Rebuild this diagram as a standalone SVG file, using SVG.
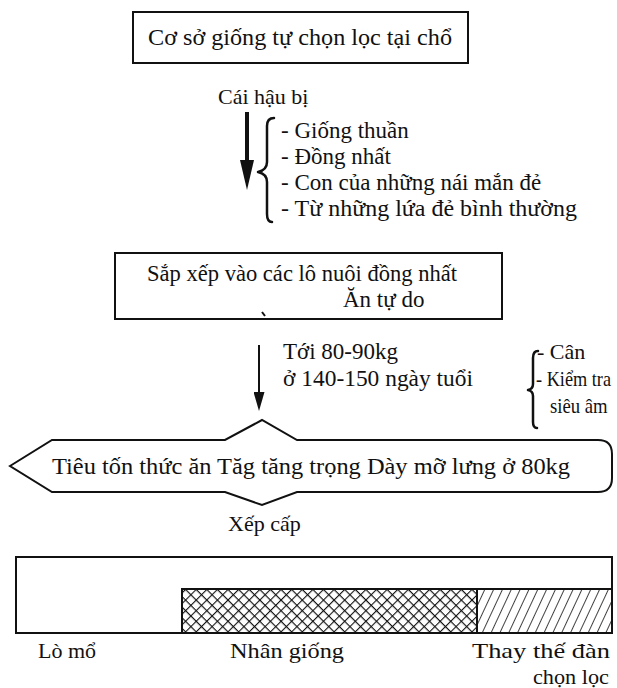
<svg xmlns="http://www.w3.org/2000/svg" width="617" height="688" viewBox="0 0 617 688">
  <style>
    .t { font-family: "Liberation Serif", "Times New Roman", serif; font-size: 23px; fill: #111; }
    .s { font-size: 22px; }
    .box { fill: #fff; stroke: #111; stroke-width: 2; }
    .line { fill: none; stroke: #111; stroke-width: 2; }
    .brace { fill: none; stroke: #111; stroke-width: 2.5; stroke-linecap: round; stroke-linejoin: round; }
  </style>
  <defs>
    <!-- heavy arrowhead: tip sits 25 units past the shaft end -->
    <marker id="headBold" viewBox="0 0 30 14" refX="5" refY="7" markerWidth="30" markerHeight="14" markerUnits="userSpaceOnUse" orient="auto">
      <path d="M0,0 L30,7 L0,14 Z" fill="#111"/>
    </marker>
    <!-- light arrowhead: tip sits 16 units past the shaft end -->
    <marker id="headThin" viewBox="0 0 19 11" refX="3" refY="5.5" markerWidth="19" markerHeight="11" markerUnits="userSpaceOnUse" orient="auto">
      <path d="M0,0 L19,5.5 L0,11 Z" fill="#111"/>
    </marker>
    <pattern id="crossHatch" width="7.5" height="7.5" patternUnits="userSpaceOnUse" patternTransform="rotate(45)">
      <rect width="7.5" height="7.5" fill="#fff"/>
      <path d="M0,0 H7.5 M0,0 V7.5" stroke="#111" stroke-width="2.2"/>
    </pattern>
    <pattern id="slantHatch" width="8" height="8" patternUnits="userSpaceOnUse" patternTransform="rotate(25)">
      <rect width="8" height="8" fill="#fff"/>
      <path d="M0,0 V8" stroke="#111" stroke-width="1.6"/>
    </pattern>
  </defs>

  <!-- source herd -->
  <g id="source">
    <rect class="box" x="133" y="12" width="335" height="51"/>
    <text class="t" x="300" y="45" text-anchor="middle" textLength="304" lengthAdjust="spacingAndGlyphs">Cơ sở giống tự chọn lọc tại chổ</text>
  </g>

  <!-- gilt criteria -->
  <g id="gilts">
    <text class="t s" x="218" y="104">Cái hậu bị</text>
    <text class="t" x="281" y="138">- Giống thuần</text>
    <text class="t" x="281" y="164">- Đồng nhất</text>
    <text class="t" x="281" y="190">- Con của những nái mắn đẻ</text>
    <text class="t" x="281" y="216" textLength="296" lengthAdjust="spacingAndGlyphs">- Từ những lứa đẻ bình thường</text>
  </g>

  <!-- grouping pens -->
  <g id="pens">
    <rect class="box" x="115" y="253" width="387" height="66"/>
    <text class="t" x="147" y="281" textLength="310" lengthAdjust="spacingAndGlyphs">Sắp xếp vào các lô nuôi đồng nhất</text>
    <text class="t" x="343" y="307">Ăn tự do</text>
    <path class="line" d="M262,312 l3,4" stroke-width="1.5"/>
  </g>

  <!-- test conditions -->
  <g id="test">
    <text class="t" x="283" y="359">Tới 80-90kg</text>
    <text class="t" x="283" y="386" textLength="190" lengthAdjust="spacingAndGlyphs">ở 140-150 ngày tuổi</text>
    <text class="t s" x="537" y="359">- Cân</text>
    <text class="t s" transform="translate(536,386) scale(0.83,1)">- Kiểm tra</text>
    <text class="t s" transform="translate(550,413) scale(0.85,1)">siêu âm</text>
  </g>

  <!-- measured traits -->
  <g id="traits">
    <path class="box" d="M10,466 L52,440 L225,440 L262,420 L297,440 L598,440 Q612,440 612,454 L612,478 Q612,492 598,492 L297,492 L262,505 L225,492 L52,492 Z"/>
    <text class="t" x="52" y="474" textLength="518" lengthAdjust="spacingAndGlyphs">Tiêu tốn thức ăn  Tăg tăng trọng  Dày mỡ lưng ở 80kg</text>
    <text class="t s" x="228" y="531">Xếp cấp</text>
  </g>

  <!-- destination bar -->
  <g id="bar">
    <rect x="182" y="589" width="295" height="44" fill="url(#crossHatch)" stroke="#111" stroke-width="2"/>
    <rect x="477" y="589" width="135" height="44" fill="url(#slantHatch)" stroke="#111" stroke-width="2"/>
    <rect x="16" y="557" width="596" height="76" fill="none" stroke="#111" stroke-width="2"/>
    <text class="t s" x="38" y="658">Lò mổ</text>
    <text class="t s" x="230" y="658" textLength="114" lengthAdjust="spacingAndGlyphs">Nhân giống</text>
    <text class="t s" x="472" y="658" textLength="138" lengthAdjust="spacingAndGlyphs">Thay thế đàn</text>
    <text class="t s" x="533" y="684" textLength="76" lengthAdjust="spacingAndGlyphs">chọn lọc</text>
  </g>

  <!-- connectors -->
  <g id="connectors">
    <line x1="247" y1="112" x2="247" y2="165" stroke="#111" stroke-width="4" marker-end="url(#headBold)"/>
    <line x1="259" y1="345" x2="259" y2="395" stroke="#111" stroke-width="2" marker-end="url(#headThin)"/>
    <path class="brace" d="M274,118 Q267,118 267,126 L267,162 Q267,170 258,172 Q267,174 267,182 L267,214 Q267,222 272,222"/>
    <path class="brace" d="M538,351 Q533,351 533,358 L533,384 Q533,389 528,390 Q533,391 533,396 L533,422 Q533,428 537,428" stroke-width="2"/>
  </g>
</svg>
